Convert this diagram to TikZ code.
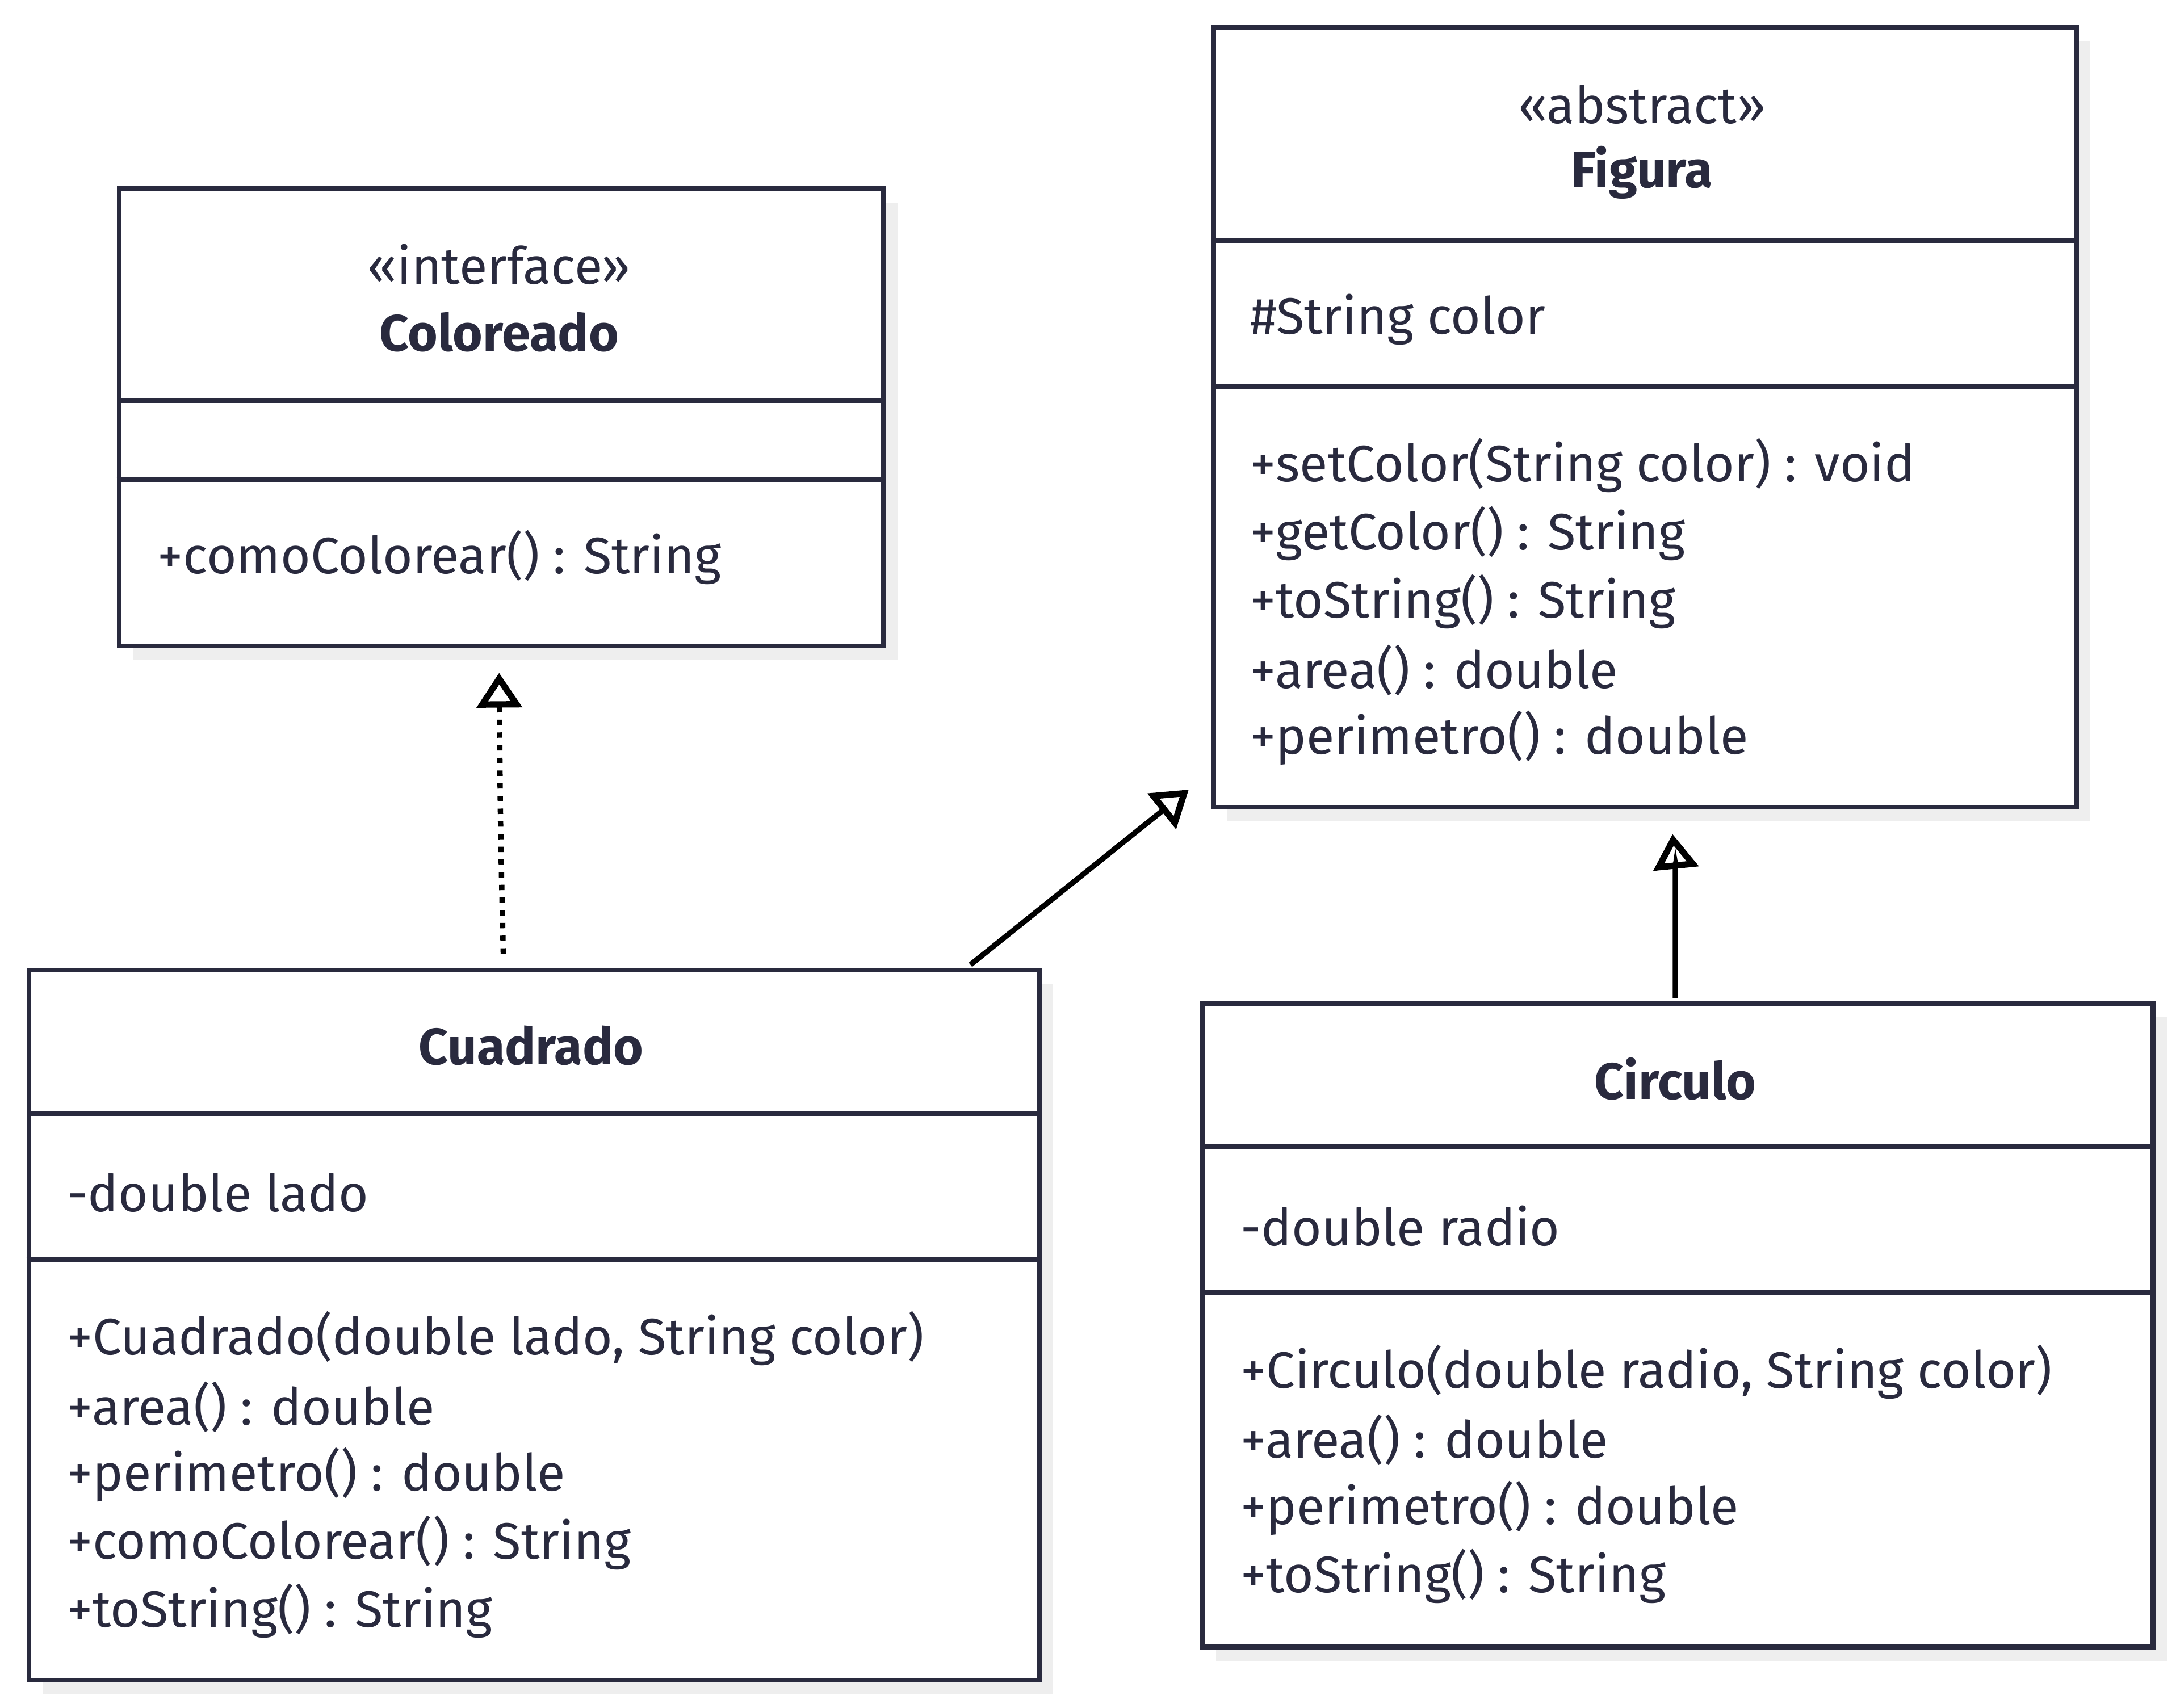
\documentclass[tikz,border=0pt]{standalone}
\usepackage{fontspec}
\setmainfont{Fira Sans}
\usetikzlibrary{arrows.meta,shadows,positioning}
\definecolor{nvx}{HTML}{292A3E}
\definecolor{shx}{HTML}{EEEEEE}

\begin{document}
\begin{tikzpicture}[x=0.02cm,y=-0.02cm,
    cls/.style={draw=nvx,line width=2pt,fill=white,anchor=north west,inner sep=0pt,
        drop shadow={shadow xshift=0.2cm,shadow yshift=-0.2cm,fill=shx,opacity=1}},
    div/.style={draw=nvx,line width=2pt},
    ster/.style={text=nvx,font=\fontsize{21}{25}\selectfont},
    ttl/.style={text=nvx,font=\fontsize{21}{25}\selectfont\bfseries},
    mem/.style={text=nvx,anchor=west,inner sep=0pt,font=\fontsize{21}{25}\selectfont},
    link/.style={line width=2.2pt,-{Triangle[open,length=0.5cm,width=0.64cm,line width=2.6pt]}}
]
\useasboundingbox (0,0) rectangle (1568,1228.6);

% Coloreado
\node[cls,minimum width=11cm,minimum height=6.58cm] (colo) at (84,134) {};
\draw[div] (colo.west |- 0,288) -- (colo.east |- 0,288);
\draw[div] (colo.west |- 0,345) -- (colo.east |- 0,345);
\node[ster] (coloS) at (359,190) {«interface»};
\node[ttl] (coloT) at (359,239) {Coloreado};
\node[mem] (coloM1) at (113,401) {+comoColorear() : String};

% Figura
\node[cls,minimum width=12.42cm,minimum height=11.22cm] (fig) at (871,18) {};
\draw[div] (fig.west |- 0,173) -- (fig.east |- 0,173);
\draw[div] (fig.west |- 0,278) -- (fig.east |- 0,278);
\node[ster] (figS) at (1181,75) {«abstract»};
\node[ttl] (figT) at (1181,124) {Figura};
\node[mem] (figA1) at (899,230) {\#String color};
\foreach \t [count=\i] in {{+setColor(String color) : void},{+getColor() : String},
    {+toString() : String},{+area() : double},{+perimetro() : double}}
    \node[mem] (figM\i) at (899,286+49*\i) {\t};

% Cuadrado
\node[cls,minimum width=14.54cm,minimum height=10.22cm] (cuad) at (19,696) {};
\draw[div] (cuad.west |- 0,801) -- (cuad.east |- 0,801);
\draw[div] (cuad.west |- 0,906) -- (cuad.east |- 0,906);
\node[ttl] (cuadT) at (382,752) {Cuadrado};
\node[mem] (cuadA1) at (48,858) {-double lado};
\foreach \t [count=\i] in {{+Cuadrado(double lado, String color)},{+area() : double},
    {+perimetro() : double},{+comoColorear() : String},{+toString() : String}}
    \node[mem] (cuadM\i) at (48,914+49*\i) {\t};

% Circulo
\node[cls,minimum width=13.68cm,minimum height=9.26cm] (circ) at (863,720) {};
\draw[div] (circ.west |- 0,825) -- (circ.east |- 0,825);
\draw[div] (circ.west |- 0,930) -- (circ.east |- 0,930);
\node[ttl] (circT) at (1205,776) {Circulo};
\node[mem] (circA1) at (892,882) {-double radio};
\foreach \t [count=\i] in {{+Circulo(double radio, String color)},{+area() : double},
    {+perimetro() : double},{+toString() : String}}
    \node[mem] (circM\i) at (892,938+49*\i) {\t};

% relations
\coordinate (realS) at (362,686);
\coordinate (realE) at (359,484);
\draw[link,dash pattern=on 2.2pt off 3pt] (realS) .. controls (360,600) .. (realE);
\coordinate (herS) at (698,694);
\coordinate (herE) at (855,568);
\draw[link] (herS) -- (herE);
\coordinate (cirS) at (1205,718);
\coordinate (cirE) at (1203,600);
\draw[link] (cirS) -- (1205,650) .. controls (1205,620) .. (cirE);
\end{tikzpicture}
\end{document}
